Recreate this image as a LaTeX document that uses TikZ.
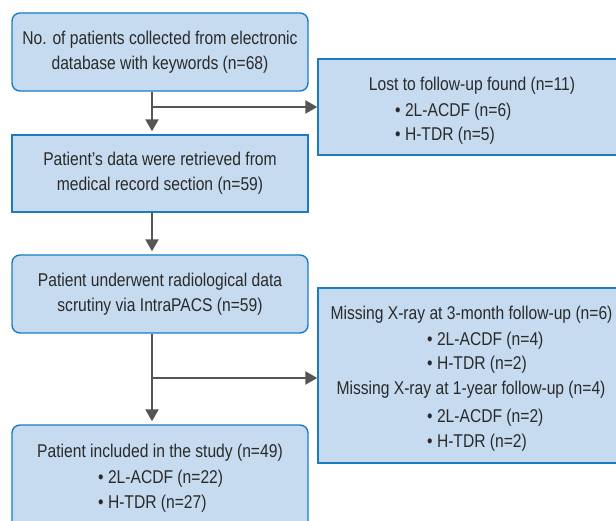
\documentclass[tikz,border=0pt]{standalone}
\usepackage{fontspec}
\setmainfont{Liberation Sans}[FakeStretch=0.845]
\usetikzlibrary{arrows.meta}
\definecolor{boxfill}{HTML}{C6DBF0}
\definecolor{boxline}{HTML}{1B7CC2}
\definecolor{arrowgray}{HTML}{555555}
\definecolor{textgray}{HTML}{2A2A2A}

\begin{document}
\begin{tikzpicture}[x=1pt,y=-1pt,
    box/.style={draw=boxline,fill=boxfill,line width=1.4pt,minimum width=296pt,inner sep=0pt},
    txt/.style={text=textgray,font=\fontsize{18.5}{25.4}\selectfont,inner sep=0pt},
    flow/.style={draw=arrowgray,line width=2.5pt,-{Triangle[length=12pt,width=13pt]}}]
    \useasboundingbox (0,0) rectangle (616,521);
    % left column
    \node [box,txt,rounded corners=8pt,minimum height=78pt,align=center] (collected) at (160,52)
        {No. of patients collected from electronic\\database with keywords (n=68)};
    \node [box,txt,minimum height=77pt,align=center] (retrieved) at (160,173.5)
        {Patient’s data were retrieved from\\medical record section (n=59)};
    \node [box,txt,rounded corners=8pt,minimum height=78pt,align=center] (scrutiny) at (160,294)
        {Patient underwent radiological data\\scrutiny via IntraPACS (n=59)};
    \node [box,rounded corners=8pt,minimum height=115pt] (included) at (160,482.5) {};
    \node [txt,anchor=base] (included-t) at (160,457) {Patient included in the study (n=49)};
    \node [txt,anchor=base west] (included-a) at (98,483) {• 2L-ACDF (n=22)};
    \node [txt,anchor=base west] (included-b) at (98,508) {• H-TDR (n=27)};
    % right column
    \node [box,minimum width=302pt,minimum height=96pt] (lost) at (469,107) {};
    \node [txt,anchor=base] (lost-t) at (472,91) {Lost to follow-up found (n=11)};
    \node [txt,anchor=base west] (lost-a) at (395,117) {• 2L-ACDF (n=6)};
    \node [txt,anchor=base west] (lost-b) at (395,141) {• H-TDR (n=5)};
    \node [box,minimum width=302pt,minimum height=175pt] (missing) at (469,375.5) {};
    \node [txt,anchor=base] (missing-t1) at (471.5,320) {Missing X-ray at 3-month follow-up (n=6)};
    \node [txt,anchor=base west] (missing-a1) at (427,345) {• 2L-ACDF (n=4)};
    \node [txt,anchor=base west] (missing-b1) at (427,370) {• H-TDR (n=2)};
    \node [txt,anchor=base] (missing-t2) at (471,395) {Missing X-ray at 1-year follow-up (n=4)};
    \node [txt,anchor=base west] (missing-a2) at (427,422) {• 2L-ACDF (n=2)};
    \node [txt,anchor=base west] (missing-b2) at (427,447) {• H-TDR (n=2)};
    % connectors
    \coordinate (split1) at (152,107);
    \coordinate (split2) at (152,378);
    \draw [flow,shorten >=3pt] (collected.south -| split1) -- (retrieved.north -| split1);
    \draw [flow] (split1) -- (split1 -| lost.west);
    \draw [flow,shorten >=3pt] (retrieved.south -| split1) -- (scrutiny.north -| split1);
    \draw [flow,shorten >=3pt] (scrutiny.south -| split2) -- (included.north -| split2);
    \draw [flow] (split2) -- (split2 -| missing.west);
\end{tikzpicture}
\end{document}
